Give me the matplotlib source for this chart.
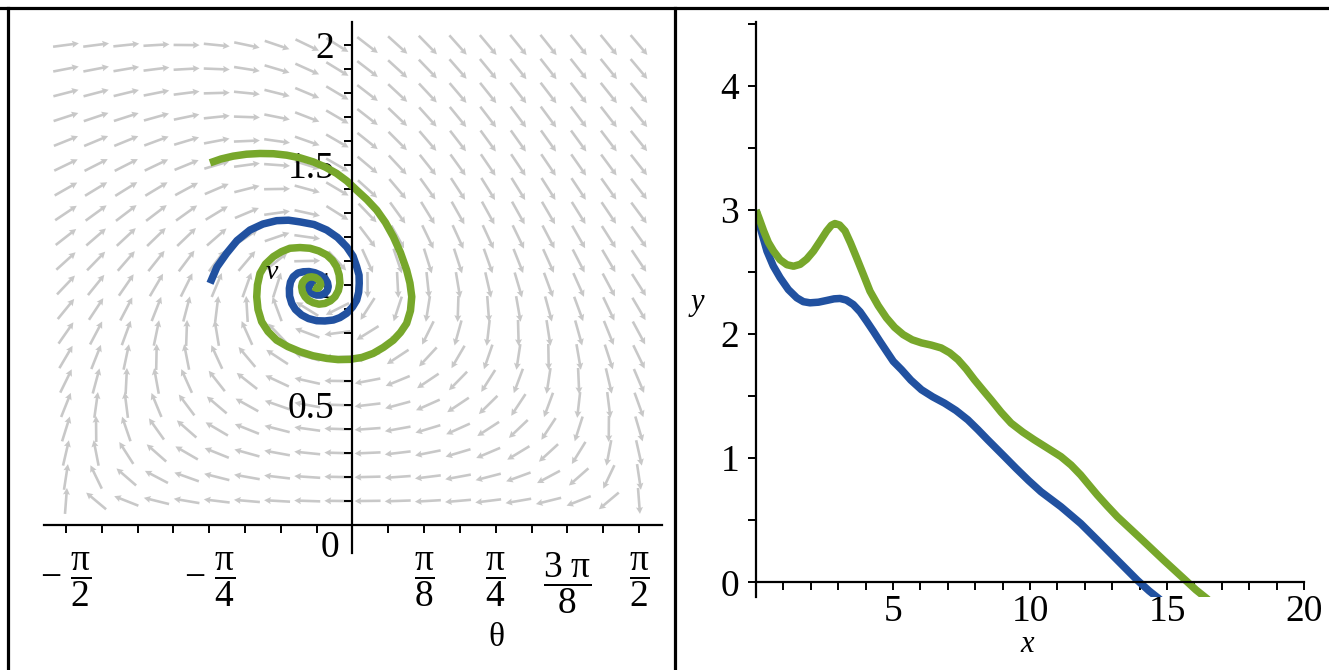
import numpy as np
import matplotlib
matplotlib.use('Agg')
import matplotlib.pyplot as plt
from matplotlib.lines import Line2D

plt.rcParams['font.family'] = ['Liberation Serif', 'DejaVu Serif']
plt.rcParams['mathtext.fontset'] = 'custom'
plt.rcParams['mathtext.rm'] = 'Liberation Serif'
plt.rcParams['mathtext.it'] = 'Liberation Serif:italic'
plt.rcParams['mathtext.bf'] = 'Liberation Serif:bold'

# ---------------- data ----------------
# phase-plane trajectories (theta, v)
blue_theta = [-0.781, -0.743, -0.690, -0.633, -0.562, -0.491, -0.416, -0.351, -0.288,
              -0.211, -0.141, -0.082, -0.032, 0.003, 0.023, 0.036, 0.037, 0.034, 0.023,
              0.000, -0.032, -0.069, -0.105, -0.151, -0.196, -0.241, -0.279, -0.313,
              -0.333, -0.345, -0.346, -0.340, -0.325, -0.299, -0.270, -0.238, -0.206,
              -0.175, -0.151, -0.137, -0.133, -0.138, -0.151, -0.173, -0.196, -0.217,
              -0.233, -0.241, -0.242, -0.236, -0.224, -0.214, -0.206]
blue_v = [1.007, 1.075, 1.132, 1.185, 1.229, 1.254, 1.268, 1.270, 1.263,
          1.252, 1.229, 1.198, 1.159, 1.120, 1.076, 1.041, 1.007, 0.970, 0.937,
          0.908, 0.882, 0.864, 0.854, 0.850, 0.851, 0.860, 0.875, 0.898,
          0.923, 0.954, 0.986, 1.012, 1.034, 1.050, 1.055, 1.056, 1.051,
          1.041, 1.028, 1.010, 0.993, 0.977, 0.965, 0.958, 0.958, 0.963,
          0.972, 0.983, 0.993, 1.002, 1.007, 1.006, 1.000]

green_theta = [-0.781, -0.721, -0.654, -0.581, -0.507, -0.433, -0.361, -0.288, -0.215,
               -0.148, -0.087, -0.030, 0.023, 0.079, 0.133, 0.181, 0.224, 0.263, 0.297,
               0.315, 0.325, 0.318, 0.297, 0.263, 0.224, 0.170, 0.114, 0.052, -0.014,
               -0.079, -0.141, -0.217, -0.288, -0.354, -0.416, -0.463, -0.498, -0.518,
               -0.525, -0.521, -0.507, -0.477, -0.434, -0.389, -0.343, -0.288, -0.233,
               -0.185, -0.141, -0.110, -0.087, -0.073, -0.069, -0.077, -0.096, -0.121,
               -0.151, -0.184, -0.215, -0.241, -0.260, -0.274, -0.279, -0.274, -0.260,
               -0.243, -0.224, -0.203, -0.188, -0.177, -0.174, -0.184, -0.196, -0.215]
green_v = [1.509, 1.525, 1.537, 1.545, 1.548, 1.547, 1.541, 1.530, 1.513,
           1.491, 1.465, 1.433, 1.395, 1.356, 1.312, 1.260, 1.201, 1.135, 1.062,
           1.008, 0.951, 0.893, 0.840, 0.802, 0.770, 0.740, 0.715, 0.698, 0.690,
           0.689, 0.694, 0.705, 0.722, 0.743, 0.770, 0.806, 0.847, 0.898,
           0.951, 1.000, 1.048, 1.087, 1.118, 1.139, 1.153, 1.156, 1.153,
           1.142, 1.125, 1.103, 1.076, 1.042, 1.007, 0.977, 0.951, 0.934,
           0.923, 0.920, 0.926, 0.936, 0.951, 0.971, 0.993, 1.010, 1.023,
           1.032, 1.034, 1.031, 1.023, 1.012, 1.000, 0.988, 0.986, 0.993]

# glide paths (x, y)
blue_x = [0.0, 0.18, 0.40, 0.63, 0.88, 1.18, 1.49, 1.73, 1.97, 2.28, 2.58, 2.85, 3.07,
          3.30, 3.55, 3.80, 4.04, 4.28, 4.52, 4.77, 5.01, 5.31, 5.65, 6.04, 6.45, 6.88,
          7.30, 7.73, 8.10, 8.46, 9.07, 9.49, 9.95, 10.40, 11.13, 11.85, 12.46, 13.19,
          13.92, 14.35, 14.75]
blue_y = [3.0, 2.84, 2.670, 2.55, 2.455, 2.36, 2.293, 2.262, 2.253, 2.258, 2.272, 2.285,
          2.288, 2.275, 2.239, 2.18, 2.104, 2.025, 1.943, 1.86, 1.781, 1.714, 1.63, 1.552,
          1.495, 1.444, 1.385, 1.310, 1.23, 1.148, 1.013, 0.919, 0.82, 0.730, 0.609,
          0.474, 0.340, 0.178, 0.016, -0.070, -0.14]

green_x = [0.0, 0.12, 0.28, 0.45, 0.64, 0.88, 1.13, 1.37, 1.61, 1.85, 2.10, 2.34, 2.58,
           2.75, 2.88, 3.05, 3.25, 3.45, 3.67, 3.92, 4.16, 4.46, 4.76, 5.06, 5.37, 5.70,
           6.04, 6.40, 6.76, 7.07, 7.37, 7.67, 7.97, 8.28, 8.58, 8.95, 9.31, 9.74, 10.16,
           10.65, 11.13, 11.50, 11.85, 12.15, 12.46, 12.82, 13.19, 14.04, 14.88, 15.61,
           16.05, 16.50]
green_y = [3.0, 2.93, 2.832, 2.74, 2.670, 2.60, 2.560, 2.548, 2.563, 2.605, 2.670, 2.75,
           2.832, 2.878, 2.892, 2.88, 2.832, 2.735, 2.617, 2.48, 2.347, 2.23, 2.132, 2.055,
           1.997, 1.955, 1.930, 1.912, 1.889, 1.85, 1.795, 1.72, 1.633, 1.55, 1.471, 1.37,
           1.283, 1.21, 1.148, 1.08, 1.013, 0.945, 0.865, 0.785, 0.703, 0.615, 0.528,
           0.353, 0.178, 0.030, -0.060, -0.14]

# direction field of the plotted system (phugoid glider model, drag R)
R_DRAG = 0.2
field_theta = np.linspace(-np.pi / 2, np.pi / 2, 20)
field_v = np.linspace(0.1, 2.0, 20)

left_xticks = [-np.pi / 2, -3 * np.pi / 8, -np.pi / 4, -np.pi / 8,
               np.pi / 8, np.pi / 4, 3 * np.pi / 8, np.pi / 2]
left_xticklabels = [r'$-\ \dfrac{\mathrm{\pi}}{2}$', '', r'$-\ \dfrac{\mathrm{\pi}}{4}$', '',
                    r'$\dfrac{\mathrm{\pi}}{8}$', r'$\dfrac{\mathrm{\pi}}{4}$',
                    r'$\dfrac{3\ \mathrm{\pi}}{8}$', r'$\dfrac{\mathrm{\pi}}{2}$']
left_yticks = [0.5, 1.0, 1.5, 2.0]
left_yticklabels = ['0.5', '1', '1.5', '2']
right_xticks = [5, 10, 15, 20]
right_yticks = [0, 1, 2, 3, 4]

BLUE = '#2151a0'
GREEN = '#77a72b'
GREY = '#c8c8c8'
FS = 27
LW = 5.4

W, H = 1329, 670
fig = plt.figure(figsize=(W / 100, H / 100), dpi=100)


def box(l, r, t, b):
    return [l / W, 1 - b / H, (r - l) / W, (b - t) / H]


# ---------------- left panel ----------------
TH_LIM = (-1.694, 1.697)
V_LIM = (-0.117, 2.096)
L_BOX = (43.5, 662, 22, 553)
ax1 = fig.add_axes(box(*L_BOX))
ax1.set_xlim(*TH_LIM)
ax1.set_ylim(*V_LIM)
ax1.patch.set_alpha(0)
sx = (L_BOX[1] - L_BOX[0]) / (TH_LIM[1] - TH_LIM[0])
sy = (L_BOX[3] - L_BOX[2]) / (V_LIM[1] - V_LIM[0])

TH, VV = np.meshgrid(field_theta, field_v)
dth = (VV ** 2 - np.cos(TH)) / VV
dv = -np.sin(TH) - R_DRAG * VV ** 2
pu, pv = dth * sx, dv * sy
nrm = np.hypot(pu, pv)
ARROW_PX = 26
U = ARROW_PX * pu / nrm / sx
V = ARROW_PX * pv / nrm / sy
ax1.quiver(TH, VV, U, V, angles='xy', scale_units='xy', scale=1, pivot='middle',
           color=GREY, width=0.0042, headwidth=2.7, headlength=2.6,
           headaxislength=2.3, zorder=1)

ax1.plot(blue_theta, blue_v, color=BLUE, lw=LW, solid_capstyle='butt',
         solid_joinstyle='round', zorder=2)
ax1.plot(green_theta, green_v, color=GREEN, lw=LW, solid_capstyle='butt',
         solid_joinstyle='round', zorder=2)

for s in ['top', 'right']:
    ax1.spines[s].set_visible(False)
ax1.spines['left'].set_position(('data', 0))
ax1.spines['bottom'].set_position(('data', 0))
for s in ['left', 'bottom']:
    ax1.spines[s].set_linewidth(1.6)
    ax1.spines[s].set_zorder(3)

ax1.set_xticks(left_xticks)
ax1.set_xticklabels(left_xticklabels)
ax1.set_xticks([k * np.pi / 16 for k in range(-7, 8, 2)], minor=True)
ax1.set_yticks(left_yticks)
ax1.set_yticklabels(left_yticklabels)
ax1.set_yticks([k / 10 for k in range(1, 20) if k % 5 != 0], minor=True)
ax1.tick_params(axis='both', which='both', direction='out', width=1.4, length=6,
                labelsize=FS, zorder=3)
ax1.tick_params(axis='x', which='major', pad=12)
ax1.tick_params(axis='y', which='major', pad=7)
ax1.text(-0.441, 1.054, 'v', fontsize=20, style='italic', ha='center', va='center',
         zorder=4)

fig.text(330 / W, 1 - 548 / H, '0', fontsize=FS, ha='center', va='center')
fig.text(496 / W, 1 - 638 / H, 'θ', fontsize=24, ha='center', va='center')

# ---------------- right panel ----------------
ax2 = fig.add_axes(box(756, 1304, 21.6, 596.8))
ax2.set_xlim(0, 20)
ax2.set_ylim(-0.117, 4.52)
ax2.patch.set_alpha(0)
ax2.plot(blue_x, blue_y, color=BLUE, lw=LW, solid_capstyle='butt',
         solid_joinstyle='round', zorder=2)
ax2.plot(green_x, green_y, color=GREEN, lw=LW, solid_capstyle='butt',
         solid_joinstyle='round', zorder=2)
for s in ['top', 'right']:
    ax2.spines[s].set_visible(False)
ax2.spines['bottom'].set_position(('data', 0))
for s in ['left', 'bottom']:
    ax2.spines[s].set_linewidth(1.6)
    ax2.spines[s].set_zorder(3)
ax2.set_xticks(right_xticks)
ax2.set_xticklabels([str(t) for t in right_xticks])
ax2.set_xticks([k for k in range(1, 20) if k % 5 != 0], minor=True)
ax2.set_yticks(right_yticks)
ax2.set_yticklabels([str(t) for t in right_yticks])
ax2.set_yticks([k + 0.5 for k in range(0, 5)], minor=True)
ax2.tick_params(axis='both', which='both', direction='out', width=1.4, length=6,
                labelsize=FS)
ax2.tick_params(axis='x', which='major', pad=3)
ax2.tick_params(axis='y', which='major', pad=6)
fig.text(697 / W, 1 - 303 / H, 'y', fontsize=22, style='italic', ha='center', va='center')
fig.text(1027 / W, 1 - 645 / H, 'x', fontsize=22, style='italic', ha='center', va='center')

# ---------------- frame lines ----------------
for (x0, y0, x1, y1) in [(0, 8, W, 8), (8, 8, 8, H), (675, 8, 675, H)]:
    fig.add_artist(Line2D([x0 / W, x1 / W], [1 - y0 / H, 1 - y1 / H],
                          transform=fig.transFigure, color='black', lw=2.3))

fig.savefig('out.png', dpi=100)
